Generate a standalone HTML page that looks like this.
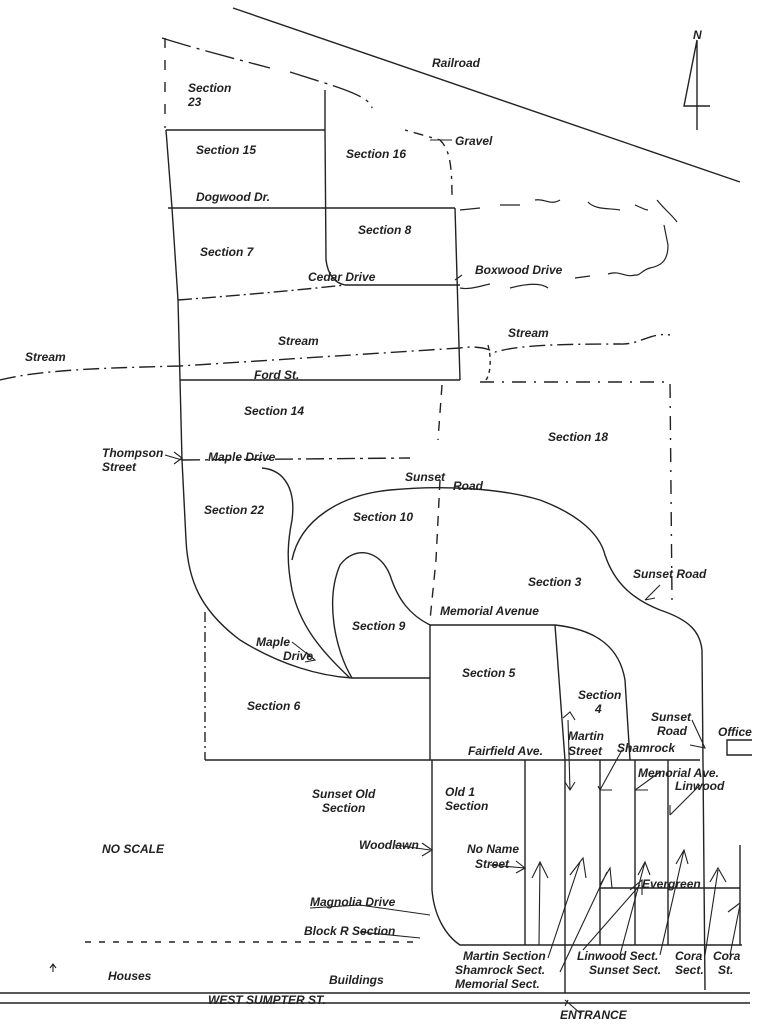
<!DOCTYPE html>
<html><head><meta charset="utf-8"><style>
html,body{margin:0;padding:0;background:#fff;}
svg{display:block}
text{font-family:"Liberation Sans",sans-serif;font-style:italic;font-weight:bold;font-size:12px;fill:#222}
</style></head><body>
<svg width="763" height="1024" viewBox="0 0 763 1024" xmlns="http://www.w3.org/2000/svg">
<g fill="none" stroke="#222" stroke-width="1.4">
<!-- railroad -->
<path d="M233 8 L740 182"/>
<!-- north arrow -->
<path d="M697 40 L684 106 L710 106 M697 40 L697 130"/>
<!-- top wavy boundary -->
<path d="M162 38 C200 50 240 60 270 68 M290 72 C330 85 370 95 372 108" stroke-dasharray="30 6 3 6"/>
<path d="M165 38 L165 128" stroke-dasharray="10 12"/>
<path d="M325 90 L325 130"/>
<!-- section 15 box -->
<path d="M166 130 L325 130"/>
<path d="M166 130 L172 208 L178 300 L180 380"/>
<path d="M325 130 L326 260 C328 275 335 283 345 285 L460 285"/>
<path d="M168 208 L455 208"/>
<path d="M455 208 L460 380"/>
<path d="M178 300 C230 296 280 292 345 285" stroke-dasharray="14 4 2 4"/>
<path d="M405 130 L440 140 C450 150 452 165 452 200" stroke-dasharray="3 6 10 6"/>
<path d="M180 380 L460 380"/>
<!-- stream -->
<path d="M0 380 C40 370 100 368 180 366 L460 348 C480 345 490 350 495 352 C520 345 560 344 620 344 C640 345 650 332 670 335" stroke-dasharray="16 5 2 5"/>
<path d="M488 345 C492 360 490 375 486 380" stroke-dasharray="4 4"/>
<!-- right dashed wiggles -->
<path d="M460 210 L480 208 M500 205 L520 205 M535 200 C545 198 550 206 560 200 M588 202 C595 210 610 208 620 210 M635 205 C640 207 645 210 648 210 M657 200 C665 210 672 215 677 222" stroke-width="1.2"/>
<path d="M460 288 C470 290 480 286 490 284 M510 288 C525 284 540 282 548 288 M575 278 L590 276 M608 274 C620 270 625 278 635 275 C640 276 642 270 650 268 C660 266 668 262 668 245 L664 225" stroke-width="1.2"/>
<!-- section 18 dashed -->
<path d="M480 382 L670 382 L672 600" stroke-dasharray="14 8 2 8"/>
<path d="M442 385 L438 440 M440 480 L436 560 L430 620" stroke-dasharray="10 8"/>
<!-- maple drive -->
<path d="M180 380 L182 460"/>
<path d="M182 460 L410 458" stroke-dasharray="18 5 3 5"/>
<!-- section 22 -->
<path d="M182 460 L186 540 C188 580 200 610 240 640 C280 665 320 676 352 678 L430 678"/>
<path d="M262 468 C285 470 296 490 292 520 C288 540 286 560 292 590 C300 625 320 650 350 678"/>
<!-- section 10 arc -->
<path d="M292 560 C300 520 340 495 390 490 C440 485 500 488 540 500 C580 515 600 535 605 555 C615 585 635 600 660 610 C690 620 700 632 702 650 L705 990"/>
<!-- section 9 loop -->
<path d="M352 678 C335 650 325 600 340 565 C355 545 380 550 390 575 C398 600 410 615 430 625"/>
<!-- section 5 -->
<path d="M430 625 L555 625 C600 630 620 650 625 680 L630 760"/>
<path d="M555 625 L565 760"/>
<path d="M430 625 L430 760"/>
<path d="M205 612 L205 760" stroke-dasharray="10 4 2 4"/>
<path d="M205 760 L700 760"/>
<!-- old 1 -->
<path d="M432 760 L432 890 C434 915 445 935 460 945 L742 945"/>
<path d="M525 760 L525 945 M565 760 L565 993 M600 760 L600 945 M635 760 L635 945 M668 760 L668 945 M740 845 L740 945"/>
<path d="M600 888 L740 888"/>
<!-- office -->
<path d="M752 740 L727 740 L727 755 L752 755"/>
<!-- bottom -->
<path d="M85 942 L420 942" stroke-dasharray="6 8"/>
<path d="M0 993 L750 993 M0 1003 L750 1003"/>
<!-- arrows -->
<g stroke-width="1.1">
<path d="M165 455 L182 460 M174 452 L182 458 L174 464"/>
<path d="M292 642 L315 660 M306 652 L315 660 L305 662"/>
<path d="M395 845 L430 850 M422 843 L432 850 L422 856"/>
<path d="M310 908 L360 905 L430 915"/>
<path d="M360 932 L420 938"/>
<path d="M490 865 L525 868 M516 861 L525 868 L516 873"/>
<path d="M539 945 L540 862 M532 878 L540 862 L548 878"/>
<path d="M548 958 L580 862 M570 875 L583 858 L586 878"/>
<path d="M560 972 L607 872 M600 885 L610 868 L612 888"/>
<path d="M583 950 L640 885 M630 890 L642 880 L642 895"/>
<path d="M620 955 L645 862 M638 875 L645 862 L650 875"/>
<path d="M660 955 L684 850 M676 864 L684 850 L688 864"/>
<path d="M705 955 L718 870 M710 882 L718 868 L726 882"/>
<path d="M730 955 L740 905 M728 912 L740 903"/>
<path d="M568 720 L570 790 M563 718 L570 712 L575 720 M565 782 L570 790 L575 782"/>
<path d="M622 750 L600 790 M598 786 L600 790 L612 790"/>
<path d="M660 772 L635 790 M635 790 L648 790"/>
<path d="M700 785 L670 815 M670 815 L670 805"/>
<path d="M692 720 L705 748 L690 745"/>
<path d="M660 585 L645 600 M645 600 L655 598"/>
<path d="M462 275 L455 280"/>
<path d="M430 140 L452 140"/>
<path d="M565 1000 L580 1013 M568 1000 L565 1006"/>
<path d="M53 972 L53 965 M50 968 L53 964 L56 968"/>
</g>
</g>
<text x="432" y="67">Railroad</text>
<text x="693" y="39" font-size="10">N</text>
<text x="188" y="92">Section</text>
<text x="188" y="106">23</text>
<text x="455" y="145">Gravel</text>
<text x="196" y="154">Section 15</text>
<text x="346" y="158">Section 16</text>
<text x="196" y="201">Dogwood Dr.</text>
<text x="358" y="234">Section 8</text>
<text x="200" y="256">Section 7</text>
<text x="308" y="281">Cedar  Drive</text>
<text x="475" y="274">Boxwood Drive</text>
<text x="508" y="337">Stream</text>
<text x="278" y="345">Stream</text>
<text x="25" y="361">Stream</text>
<text x="254" y="379">Ford St.</text>
<text x="244" y="415">Section 14</text>
<text x="548" y="441">Section 18</text>
<text x="102" y="457">Thompson</text>
<text x="102" y="471">Street</text>
<text x="208" y="461">Maple Drive</text>
<text x="405" y="481">Sunset</text>
<text x="453" y="490">Road</text>
<text x="204" y="514">Section 22</text>
<text x="353" y="521">Section 10</text>
<text x="528" y="586">Section 3</text>
<text x="633" y="578">Sunset Road</text>
<text x="440" y="615">Memorial Avenue</text>
<text x="352" y="630">Section 9</text>
<text x="256" y="646">Maple</text>
<text x="283" y="660">Drive</text>
<text x="462" y="677">Section 5</text>
<text x="578" y="699">Section</text>
<text x="595" y="713">4</text>
<text x="247" y="710">Section 6</text>
<text x="651" y="721">Sunset</text>
<text x="657" y="735">Road</text>
<text x="718" y="736">Office</text>
<text x="568" y="740">Martin</text>
<text x="568" y="755">Street</text>
<text x="617" y="752">Shamrock</text>
<text x="468" y="755">Fairfield Ave.</text>
<text x="638" y="777">Memorial Ave.</text>
<text x="675" y="790">Linwood</text>
<text x="312" y="798">Sunset Old</text>
<text x="322" y="812">Section</text>
<text x="445" y="796">Old 1</text>
<text x="445" y="810">Section</text>
<text x="102" y="853" font-size="14">NO SCALE</text>
<text x="359" y="849">Woodlawn</text>
<text x="467" y="853">No Name</text>
<text x="475" y="868">Street</text>
<text x="642" y="888">Evergreen</text>
<text x="310" y="906">Magnolia Drive</text>
<text x="304" y="935">Block R Section</text>
<text x="463" y="960">Martin Section</text>
<text x="455" y="974">Shamrock Sect.</text>
<text x="455" y="988">Memorial Sect.</text>
<text x="577" y="960">Linwood Sect.</text>
<text x="589" y="974">Sunset Sect.</text>
<text x="675" y="960">Cora</text>
<text x="675" y="974">Sect.</text>
<text x="713" y="960">Cora</text>
<text x="718" y="974">St.</text>
<text x="108" y="980">Houses</text>
<text x="329" y="984">Buildings</text>
<text x="208" y="1004" font-weight="normal">WEST SUMPTER ST.</text>
<text x="560" y="1019" font-weight="normal">ENTRANCE</text>
</svg>
</body></html>
